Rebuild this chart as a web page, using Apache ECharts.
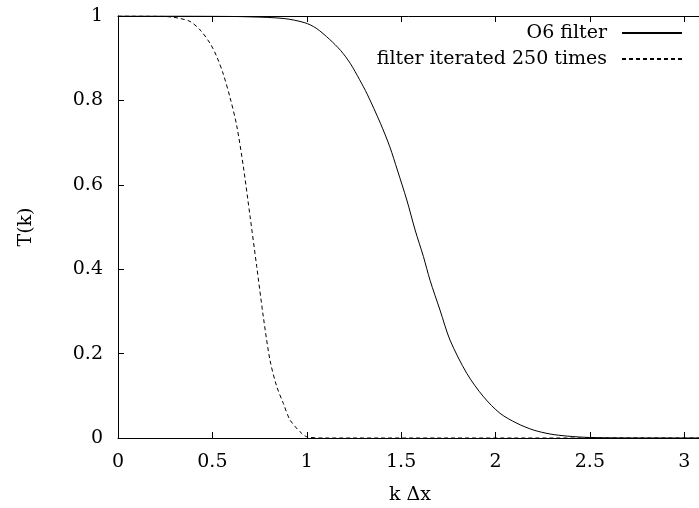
<!DOCTYPE html>
<html>
<head>
<meta charset="utf-8">
<script src="https://cdn.jsdelivr.net/npm/echarts@6/dist/echarts.min.js"></script>
<style>html,body{margin:0;padding:0;background:#fff;}#c{width:699px;height:508px;}</style>
</head>
<body>
<div id="c"></div>
<script>
// O6 filter transfer function
const kO6 = [0, 0.3, 0.5, 0.7, 0.88, 0.99, 1.05, 1.12, 1.18, 1.23, 1.28, 1.32, 1.39, 1.44, 1.48, 1.53, 1.574, 1.618, 1.653, 1.706, 1.759, 1.848, 1.936, 2.024, 2.113, 2.2, 2.289, 2.38, 2.5, 2.7, 3.1416];
const tO6 = [1, 1, 0.9995, 0.998, 0.994, 0.984, 0.971, 0.945, 0.918, 0.888, 0.849, 0.815, 0.746, 0.69, 0.635, 0.564, 0.493, 0.43, 0.374, 0.303, 0.232, 0.153, 0.098, 0.0585, 0.035, 0.019, 0.0095, 0.0045, 0.0012, 0.0002, 0];
// filter iterated 250 times
const kIter = [0, 0.2, 0.276, 0.33, 0.382, 0.435, 0.488, 0.523, 0.558, 0.594, 0.629, 0.664, 0.7, 0.735, 0.77, 0.805, 0.841, 0.876, 0.911, 0.964, 1.0, 1.1, 3.1416];
const tIter = [1, 0.9995, 0.998, 0.994, 0.987, 0.967, 0.935, 0.904, 0.862, 0.806, 0.74, 0.643, 0.524, 0.406, 0.287, 0.185, 0.122, 0.082, 0.043, 0.015, 0.003, 0, 0];
const seriesNames = ['O6 filter', 'filter iterated 250 times'];
const xTitle = 'k \u0394x';
const yTitle = 'T(k)';

const FONT = 'DejaVu Serif';
const FS = 19;
const zip = (a, b) => a.map((v, i) => [v, b[i]]);

const chart = echarts.init(document.getElementById('c'), null, {renderer: 'canvas'});
const axisCommon = {
  type: 'value',
  axisLine: {show: true, lineStyle: {color: '#000', width: 1}},
  axisTick: {show: true, inside: true, length: 6, lineStyle: {color: '#000', width: 1}},
  splitLine: {show: false}
};
chart.setOption({
  animation: false,
  backgroundColor: '#fff',
  textStyle: {fontFamily: FONT, color: '#000'},
  grid: {left: 118, top: 16, right: -12, bottom: 70, containLabel: false, outerBoundsMode: 'none'},
  legend: {
    orient: 'vertical',
    align: 'right',
    right: 11,
    top: 18,
    itemWidth: 60,
    itemHeight: 14,
    itemGap: 6,
    itemStyle: {opacity: 0},
    textStyle: {fontFamily: FONT, fontSize: FS, color: '#000', lineHeight: 20, padding: [0, 10, 0, 0]},
    data: seriesNames
  },
  xAxis: [
    Object.assign({}, axisCommon, {
      min: 0, max: Math.PI, interval: 0.5, position: 'bottom',
      name: xTitle, nameLocation: 'middle', nameGap: 48,
      nameTextStyle: {fontFamily: FONT, fontSize: FS, color: '#000', padding: [0, 9, 0, 0]},
      axisLabel: {show: true, margin: 15, fontFamily: FONT, fontSize: FS, color: '#000', showMaxLabel: false}
    }),
    Object.assign({}, axisCommon, {
      min: 0, max: Math.PI, interval: 0.5, position: 'top',
      axisLabel: {show: false}
    })
  ],
  yAxis: [
    Object.assign({}, axisCommon, {
      min: 0, max: 1, interval: 0.2, position: 'left',
      name: yTitle, nameLocation: 'middle', nameGap: 82, nameRotate: 90,
      nameTextStyle: {fontFamily: FONT, fontSize: FS, color: '#000'},
      axisLabel: {show: true, margin: 15, fontFamily: FONT, fontSize: FS, color: '#000'}
    })
  ],
  series: [
    {
      name: seriesNames[0], type: 'line', data: zip(kO6, tO6), symbol: 'none',
      smooth: 0.3,
      lineStyle: {color: '#000', width: 1}, itemStyle: {color: '#000'}
    },
    {
      name: seriesNames[1], type: 'line', data: zip(kIter, tIter), symbol: 'none',
      smooth: 0.3,
      lineStyle: {color: '#000', width: 1, type: [4, 3]}, itemStyle: {color: '#000'}
    }
  ]
});
</script>
</body>
</html>
